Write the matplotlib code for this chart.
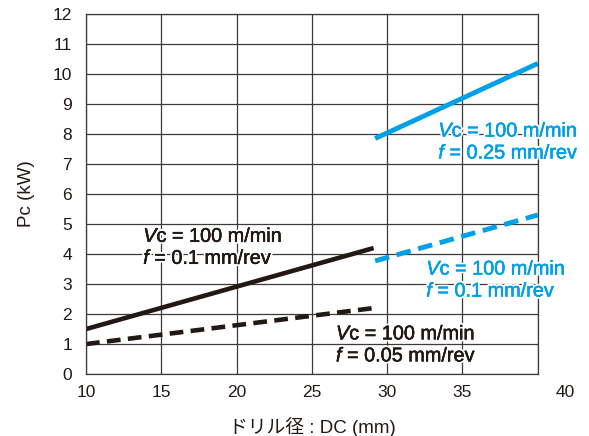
#!/usr/bin/env python
import matplotlib
matplotlib.use('Agg')
import matplotlib.pyplot as plt
import matplotlib.patheffects as pe
from matplotlib.transforms import ScaledTranslation

plt.rcParams['font.family'] = ['Liberation Sans', 'Noto Sans CJK JP', 'DejaVu Sans']
plt.rcParams['mathtext.fontset'] = 'custom'
plt.rcParams['mathtext.rm'] = 'Liberation Sans'
plt.rcParams['mathtext.it'] = 'Liberation Sans:italic'

# drill diameter (mm) vs cutting power (kW)
dc_small = [10, 29.1]
pc_f010_small = [1.5, 4.2]
pc_f005_small = [1.0, 2.2]

dc_large = [29.2, 40]
pc_f025_large = [7.85, 10.35]
pc_f010_large = [3.77, 5.3]

x_ticks = [10, 15, 20, 25, 30, 35, 40]
y_ticks = list(range(0, 13))

black = '#231815'
blue = '#00a0e9'
grid_c = '#3e3a39'

fig = plt.figure(figsize=(5.89, 4.36), dpi=100)
ax = fig.add_axes([0.146, 0.142, 0.767, 0.826])

ax.plot(dc_small, pc_f010_small, color=black, lw=3.3, solid_capstyle='butt')
ax.plot(dc_small, pc_f005_small, color=black, lw=3.3, dashes=(3.0, 1.6), dash_capstyle='butt')
ax.plot(dc_large, pc_f025_large, color=blue, lw=3.5, solid_capstyle='butt')
ax.plot(dc_large, pc_f010_large, color=blue, lw=3.5, dashes=(3.0, 1.6), dash_capstyle='butt')

ax.set_xlim(10, 40)
ax.set_ylim(0, 12)
ax.set_xticks(x_ticks)
ax.set_yticks(y_ticks)
ax.grid(True, color=grid_c, lw=0.9)
ax.set_axisbelow(True)
for s in ax.spines.values():
    s.set_color(grid_c)
    s.set_linewidth(0.9)
ax.tick_params(length=0, labelsize=12.5, colors=black, pad=8)
ax.tick_params(axis='y', pad=10)

# last x label sits a bit to the right in the original
lbl = ax.get_xticklabels()[-1]
lbl.set_transform(lbl.get_transform() + ScaledTranslation(0.27, 0, fig.dpi_scale_trans))

ax.set_ylabel('Pc (kW)', fontsize=13.5, color=black, labelpad=13)
ax.set_xlabel('ドリル径 : DC (mm)', fontsize=13.5, color=black, labelpad=12)

notes = [
    (13.8, 4.22, '$\\mathit{V}$c = 100 m/min\n$\\mathit{f}$ = 0.1 mm/rev', black),
    (26.6, 0.97, '$\\mathit{V}$c = 100 m/min\n$\\mathit{f}$ = 0.05 mm/rev', black),
    (33.4, 7.73, '$\\mathit{V}$c = 100 m/min\n$\\mathit{f}$ = 0.25 mm/rev', blue),
    (32.6, 3.13, '$\\mathit{V}$c = 100 m/min\n$\\mathit{f}$ = 0.1 mm/rev', blue),
]
for x, y, s, c in notes:
    fx = [pe.withStroke(linewidth=3, foreground='white'),
          pe.withStroke(linewidth=0.3, foreground=c)]
    ax.text(x, y, s, color=c, fontsize=14.3, ha='left', va='center',
            linespacing=1.2, path_effects=fx)

fig.savefig('out.png', dpi=100)
